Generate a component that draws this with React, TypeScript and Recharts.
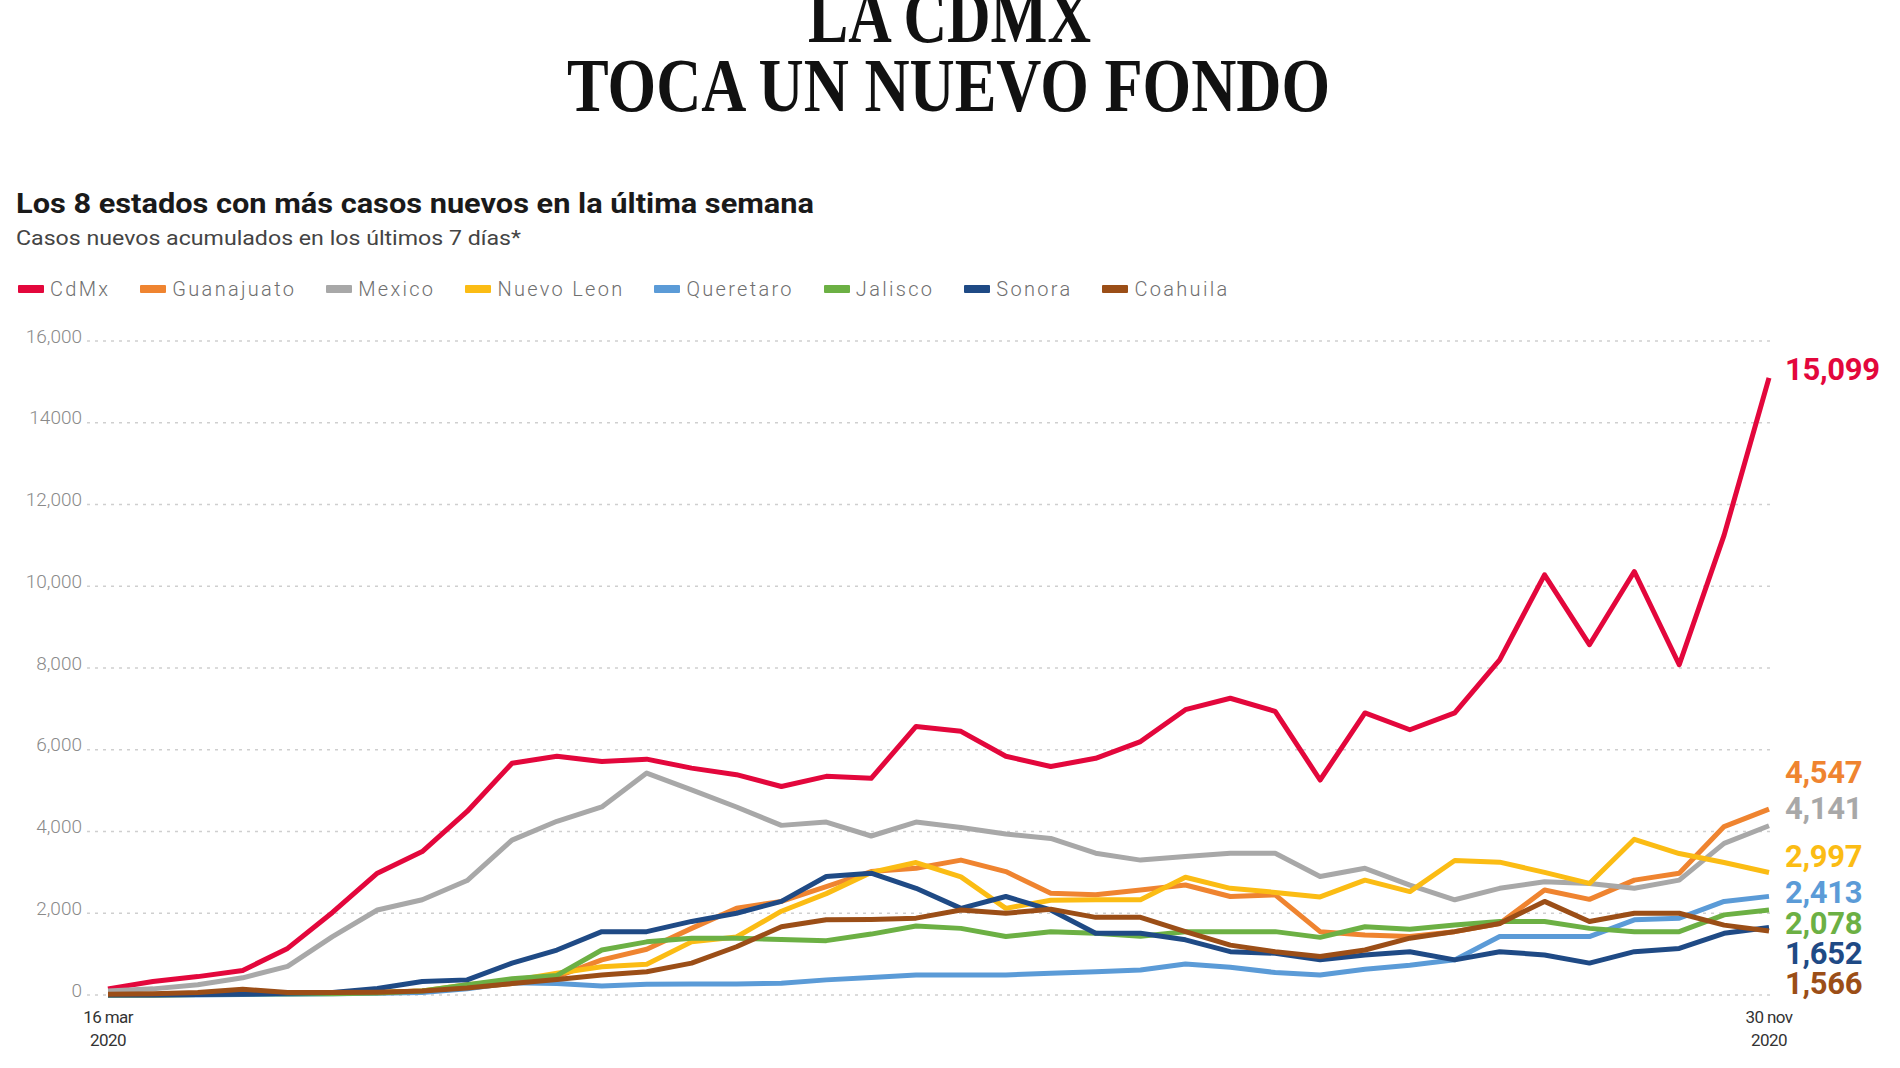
import React from 'react';
import { LineChart, Line, XAxis, YAxis, CartesianGrid, LabelList } from 'recharts';

const weeks = [
  '16 mar', '23 mar', '30 mar', '6 abr', '13 abr', '20 abr', '27 abr', '4 may', '11 may', '18 may',
  '25 may', '1 jun', '8 jun', '15 jun', '22 jun', '29 jun', '6 jul', '13 jul', '20 jul', '27 jul',
  '3 ago', '10 ago', '17 ago', '24 ago', '31 ago', '7 sep', '14 sep', '21 sep', '28 sep', '5 oct',
  '12 oct', '19 oct', '26 oct', '2 nov', '9 nov', '16 nov', '23 nov', '30 nov',
];

const cdmx = [150, 330, 450, 600, 1140, 2020, 2980, 3510, 4490, 5670, 5840, 5710, 5770, 5550, 5390, 5100, 5350, 5300, 6570, 6450, 5840, 5590, 5790, 6200, 6980, 7260, 6940, 5260, 6900, 6490, 6900, 8200, 10280, 8570, 10360, 8080, 11250, 15099];
const guanajuato = [0, 10, 30, 80, 40, 40, 60, 100, 180, 280, 450, 860, 1120, 1630, 2120, 2290, 2650, 3020, 3100, 3300, 3020, 2490, 2450, 2570, 2690, 2410, 2450, 1550, 1470, 1430, 1550, 1750, 2570, 2340, 2810, 2980, 4120, 4547];
const mexico = [100, 150, 250, 420, 700, 1430, 2080, 2330, 2800, 3790, 4250, 4600, 5430, 5020, 4600, 4150, 4230, 3890, 4230, 4100, 3940, 3830, 3470, 3300, 3390, 3470, 3470, 2900, 3100, 2690, 2330, 2610, 2770, 2730, 2610, 2810, 3710, 4141];
const nuevoLeon = [0, 0, 10, 20, 30, 40, 60, 100, 250, 350, 530, 690, 750, 1300, 1420, 2050, 2480, 3000, 3240, 2890, 2120, 2320, 2330, 2330, 2880, 2610, 2510, 2400, 2810, 2530, 3290, 3250, 3000, 2730, 3810, 3460, 3240, 2997];
const queretaro = [0, 0, 0, 10, 20, 30, 40, 60, 150, 300, 280, 220, 260, 270, 270, 290, 370, 430, 490, 490, 490, 530, 570, 610, 760, 680, 550, 490, 630, 730, 860, 1430, 1430, 1430, 1840, 1880, 2290, 2413];
const jalisco = [0, 0, 10, 30, 30, 30, 50, 100, 250, 400, 480, 1100, 1300, 1390, 1390, 1360, 1330, 1490, 1690, 1630, 1430, 1550, 1510, 1440, 1550, 1550, 1550, 1410, 1670, 1610, 1710, 1800, 1800, 1630, 1550, 1550, 1960, 2078];
const sonora = [0, 0, 10, 20, 40, 60, 160, 330, 370, 780, 1100, 1550, 1550, 1800, 2000, 2290, 2900, 2980, 2610, 2120, 2410, 2080, 1510, 1510, 1350, 1060, 1020, 860, 980, 1060, 860, 1060, 980, 780, 1060, 1140, 1510, 1652];
const coahuila = [20, 30, 60, 140, 60, 60, 70, 100, 170, 280, 380, 490, 570, 780, 1180, 1670, 1840, 1850, 1880, 2080, 2000, 2100, 1900, 1900, 1550, 1220, 1060, 940, 1100, 1390, 1550, 1750, 2290, 1800, 2000, 2000, 1710, 1566];

const yTicks = [0, 2000, 4000, 6000, 8000, 10000, 12000, 14000, 16000];
const yTickLabels = ['0', '2,000', '4,000', '6,000', '8,000', '10,000', '12,000', '14000', '16,000'];
const xTicks = ['16 mar', '30 nov'];
const tickYear = '2020';

const titleLine1 = 'LA CDMX';
const titleLine2 = 'TOCA UN NUEVO FONDO';
const subtitle = 'Los 8 estados con más casos nuevos en la última semana';
const subtitle2 = 'Casos nuevos acumulados en los últimos 7 días*';

const series = [
  { key: 'cdmx', name: 'CdMx', values: cdmx },
  { key: 'guanajuato', name: 'Guanajuato', values: guanajuato },
  { key: 'mexico', name: 'Mexico', values: mexico },
  { key: 'nuevoLeon', name: 'Nuevo Leon', values: nuevoLeon },
  { key: 'queretaro', name: 'Queretaro', values: queretaro },
  { key: 'jalisco', name: 'Jalisco', values: jalisco },
  { key: 'sonora', name: 'Sonora', values: sonora },
  { key: 'coahuila', name: 'Coahuila', values: coahuila },
];

// styling (colours and end-label vertical nudges)
const styles: Record<string, { color: string; labelDy: number }> = {
  cdmx: { color: '#e3073c', labelDy: -8 },
  guanajuato: { color: '#ef8430', labelDy: -37 },
  mexico: { color: '#a8a8a8', labelDy: -17 },
  nuevoLeon: { color: '#fbbc14', labelDy: -16 },
  queretaro: { color: '#5b9bd7', labelDy: -4 },
  jalisco: { color: '#6cb044', labelDy: 13 },
  sonora: { color: '#1f4a85', labelDy: 26 },
  coahuila: { color: '#9b4e17', labelDy: 53 },
};

const data = weeks.map((w, i) => {
  const row: Record<string, any> = { week: w };
  series.forEach((s) => { row[s.key] = s.values[i]; });
  return row;
});

const lastIdx = weeks.length - 1;

const XTick = (props: any) => {
  const { x, y, payload } = props;
  return (
    <g>
      <text x={x} y={y + 20} textAnchor="middle" fontFamily="Roboto" fontSize={17} fill="#333" letterSpacing={-0.6}>{payload.value}</text>
      <text x={x} y={y + 43} textAnchor="middle" fontFamily="Roboto" fontSize={17} fill="#333" letterSpacing={-0.6}>{tickYear}</text>
    </g>
  );
};

const YTick = (props: any) => {
  const { x, y, payload } = props;
  return (
    <text x={x} y={y - 5} textAnchor="end" dominantBaseline="central" fontFamily="Roboto" fontWeight={300} fontSize={19} fill="#8a8a8a">
      {yTickLabels[yTicks.indexOf(payload.value)]}
    </text>
  );
};

const endLabel = (key: string) => (p: any) => {
  if (p.index !== lastIdx) return <g key={`e-${key}-${p.index}`} />;
  const st = styles[key];
  return (
    <text key={`e-${key}`} x={p.x + 16} y={p.y + st.labelDy} fill={st.color} fontFamily="Roboto" fontWeight={700} fontSize={31} dominantBaseline="central" letterSpacing={-0.3}>
      {Number(p.value).toLocaleString('en-US')}
    </text>
  );
};

export default function App() {
  return (
    <div style={{ position: 'absolute', left: 0, top: 0, width: 1900, height: 1068, background: '#fff', overflow: 'hidden' }}>
      <div style={{ position: 'absolute', left: 0, top: 0 }}>
        <LineChart width={1900} height={1068} data={data} margin={{ top: 341, right: 125, bottom: 13, left: 7 }}>
          <CartesianGrid vertical={false} stroke="#cfcfcf" strokeDasharray="3 5" strokeWidth={1.5} />
          <XAxis dataKey="week" ticks={xTicks} interval={0} axisLine={false} tickLine={false} height={60} padding={{ left: 21, right: 6 }} tick={<XTick />} />
          <YAxis
            domain={[0, 16000]}
            ticks={yTicks}
            interval={0}
            axisLine={false}
            tickLine={false}
            width={80}
            tickSize={0}
            tickMargin={5}
            tick={<YTick />}
          />
          {series.map((s) => (
            <Line
              key={s.key}
              dataKey={s.key}
              name={s.name}
              type="linear"
              stroke={styles[s.key].color}
              strokeWidth={5}
              strokeLinejoin="round"
              dot={false}
              activeDot={false}
              isAnimationActive={false}
            >
              <LabelList dataKey={s.key} content={endLabel(s.key)} />
            </Line>
          ))}
        </LineChart>
      </div>
      <svg width={1900} height={260} style={{ position: 'absolute', left: 0, top: 0, pointerEvents: 'none' }}>
        <text x={808} y={42} fontFamily="Liberation Serif" fontWeight={700} fontSize={76} fill="#111" textLength={283} lengthAdjust="spacingAndGlyphs">{titleLine1}</text>
        <text x={567} y={111} fontFamily="Liberation Serif" fontWeight={700} fontSize={76} fill="#111" textLength={763} lengthAdjust="spacingAndGlyphs">{titleLine2}</text>
        <text x={16} y={213} fontFamily="Roboto" fontWeight={700} fontSize={28} fill="#1a1a1a" textLength={798} lengthAdjust="spacingAndGlyphs">{subtitle}</text>
        <text x={16} y={245} fontFamily="Roboto" fontWeight={400} fontSize={21} fill="#444" textLength={505} lengthAdjust="spacingAndGlyphs">{subtitle2}</text>
      </svg>
      <div style={{ position: 'absolute', left: 18, top: 277, height: 24, display: 'flex', alignItems: 'center', fontFamily: 'Roboto', fontWeight: 300, fontSize: 20, color: '#6f6f6f', letterSpacing: 2.3 }}>
        {series.map((s) => (
          <div key={s.key} style={{ display: 'flex', alignItems: 'center', marginRight: 30 }}>
            <span style={{ display: 'inline-block', width: 26, height: 8, background: styles[s.key].color, borderRadius: 1, marginRight: 6 }} />
            <span>{s.name}</span>
          </div>
        ))}
      </div>
    </div>
  );
}
